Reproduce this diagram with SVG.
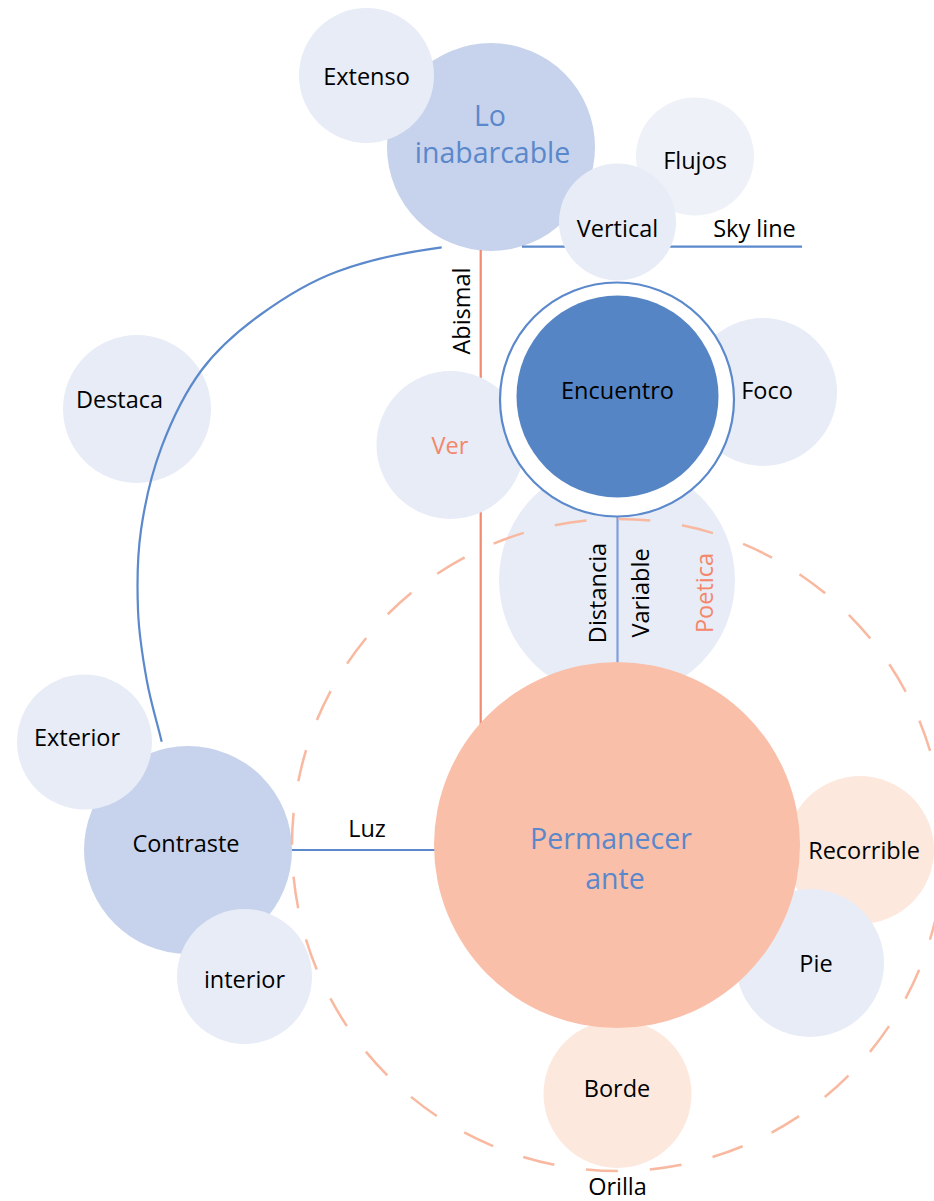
<svg xmlns="http://www.w3.org/2000/svg" width="934" height="1201" viewBox="0 0 934 1201">
  <style>
    text { font-family: "Open Sans", "Liberation Sans", sans-serif; font-size: 23.5px; fill: #000; text-anchor: middle; }
    .big { font-size: 28.5px; fill: #5a88cb; }
    .warm { fill: #f4866a; }
    .pale { fill: #e8ecf7; }
    .paler { fill: #eff1f9; }
    .mid { fill: #c7d3ec; }
    .peach { fill: #fde8dd; }
    .link { fill: none; stroke: #5b89cb; stroke-width: 2.2; }
    .link-soft { fill: none; stroke: #7fa0da; stroke-width: 2.2; }
    .link-warm { fill: none; stroke: #f08a70; stroke-width: 2.2; }
    .orbit { fill: none; stroke: #f8b9a0; stroke-width: 2.5; stroke-dasharray: 32 32; }
  </style>

  <!-- background nodes that sit under the connectors -->
  <g id="node-destaca">
    <circle class="pale" cx="137" cy="409" r="74"/>
    <text x="119.5" y="408">Destaca</text>
  </g>
  <g id="node-distancia-bg">
    <circle class="pale" cx="617" cy="580" r="118"/>
  </g>
  <g id="node-flujos">
    <circle class="paler" cx="695" cy="156.5" r="59"/>
    <text x="695" y="169">Flujos</text>
  </g>
  <g id="node-lo-inabarcable">
    <circle class="mid" cx="491" cy="147" r="104"/>
    <text class="big" x="490" y="126">Lo</text>
    <text class="big" x="492.5" y="163">inabarcable</text>
  </g>
  <g id="node-extenso">
    <circle class="pale" cx="366.5" cy="75.5" r="67.5"/>
    <text x="366.5" y="85">Extenso</text>
  </g>
  <g id="node-recorrible">
    <circle class="peach" cx="860" cy="850" r="74"/>
    <text x="864" y="859">Recorrible</text>
  </g>
  <g id="node-pie">
    <circle class="pale" cx="810" cy="963" r="74"/>
  </g>

  <!-- connectors -->
  <g id="connectors">
    <line class="link" x1="522" y1="246.7" x2="802" y2="246.7"/>
    <line class="link-warm" x1="480.7" y1="250" x2="480.7" y2="730"/>
    <line class="link-soft" x1="617.5" y1="497" x2="617.5" y2="670"/>
    <line class="link" x1="292" y1="850" x2="436" y2="850"/>
    <path class="link" d="M441.7,247.3 C406.7,252 367,260.4 336.7,271.7 C306.4,283 282.5,298.6 260,315 C237.5,331.4 218.1,348.05 201.7,370 C185.3,391.95 171.8,420 161.7,446.7 C151.6,473.4 144.95,502.8 141,530 C137.05,557.2 137.05,585 138,610 C138.95,635 142.75,658.05 146.7,680 C150.65,701.95 156.7,721.1 161.7,741.7"/>
  </g>

  <g id="node-vertical">
    <circle class="pale" cx="617.5" cy="222" r="58.5"/>
    <text x="617.5" y="236.7">Vertical</text>
  </g>
  <text x="754.5" y="237">Sky line</text>
  <text transform="translate(470,311) rotate(-90)">Abismal</text>

  <g id="node-ver">
    <circle class="pale" cx="450.5" cy="445" r="74"/>
    <text class="warm" x="450" y="454">Ver</text>
  </g>
  <g id="node-foco">
    <circle class="pale" cx="763" cy="392" r="74"/>
    <text x="767" y="399">Foco</text>
  </g>
  <g id="node-encuentro">
    <circle cx="617" cy="399.5" r="117" fill="#fff" stroke="#5b89cb" stroke-width="2.2"/>
    <circle cx="617.5" cy="396.5" r="101" fill="#5585c5"/>
    <text x="617.5" y="399">Encuentro</text>
  </g>

  <text transform="translate(606,593) rotate(-90)">Distancia</text>
  <text transform="translate(649,593) rotate(-90)">Variable</text>
  <text class="warm" transform="translate(713,593) rotate(-90)">Poetica</text>

  <g id="node-contraste">
    <circle class="mid" cx="188" cy="850" r="104"/>
    <text x="186" y="851.7">Contraste</text>
  </g>
  <g id="node-exterior">
    <circle class="pale" cx="84.5" cy="742" r="67.5"/>
    <text x="77" y="746">Exterior</text>
  </g>
  <g id="node-interior">
    <circle class="pale" cx="244.5" cy="976.5" r="67.5"/>
    <text x="244.5" y="987.7">interior</text>
  </g>
  <g id="node-borde">
    <circle class="peach" cx="617.5" cy="1094" r="74"/>
    <text x="617" y="1097">Borde</text>
  </g>

  <!-- dashed orbit round the central node -->
  <g id="node-poetica-orbit">
    <circle class="orbit" cx="618" cy="845" r="326"/>
  </g>

  <g id="node-permanecer">
    <circle cx="617" cy="845" r="183" fill="#f9bfa9"/>
    <text class="big" x="611" y="849">Permanecer</text>
    <text class="big" x="615" y="889">ante</text>
  </g>
  <text x="816" y="972">Pie</text>
  <text x="367" y="836.7">Luz</text>
  <text x="617.5" y="1195">Orilla</text>
</svg>
